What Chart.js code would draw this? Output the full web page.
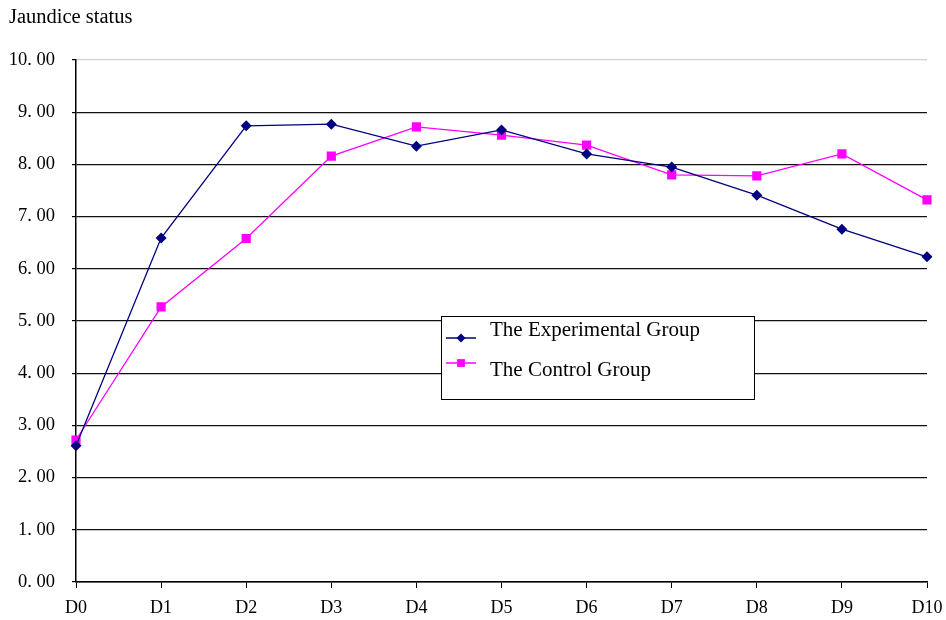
<!DOCTYPE html>
<html>
<head>
<meta charset="utf-8">
<script src="https://cdn.jsdelivr.net/npm/chart.js@4.4.1/dist/chart.umd.min.js"></script>
<style>
  html, body { margin: 0; padding: 0; background: #fff; }
  #wrap { width: 946px; height: 620px; position: relative; }
</style>
</head>
<body>
<div id="wrap"><canvas id="jaundice"></canvas></div>
<script>
const days = ['D0', 'D1', 'D2', 'D3', 'D4', 'D5', 'D6', 'D7', 'D8', 'D9', 'D10'];
const experimental = [2.61, 6.59, 8.74, 8.77, 8.35, 8.66, 8.20, 7.95, 7.41, 6.76, 6.23];
const control = [2.72, 5.27, 6.58, 8.16, 8.72, 8.56, 8.37, 7.80, 7.78, 8.20, 7.32];
const seriesNames = ['The Experimental Group', 'The Control Group'];
const yTitle = 'Jaundice status';

const NAVY = '#000080';
const MAGENTA = '#ff00ff';
const SERIF = '"Liberation Serif", "DejaVu Serif", serif';

// y label written like the original (wide full stop)
function fmt(v) {
  return v.toFixed(2).replace('.', '. ');
}

const frame = {
  id: 'frame',
  afterDraw(chart) {
    const ctx = chart.ctx;
    const a = chart.chartArea;
    ctx.save();
    // axis title top-left
    ctx.fillStyle = '#000';
    ctx.font = '20.5px ' + SERIF;
    ctx.textBaseline = 'middle';
    ctx.textAlign = 'left';
    ctx.fillText(yTitle, 9, 18);

    // legend box
    const bx = a.left + 365, by = a.top + 256, bw = 313, bh = 83;
    ctx.fillStyle = '#fff';
    ctx.fillRect(bx, by, bw, bh);
    ctx.strokeStyle = '#000';
    ctx.lineWidth = 1;
    ctx.strokeRect(bx + 0.5, by + 0.5, bw, bh);

    const items = [
      { name: seriesNames[0], color: NAVY, style: 'rectRot', r: 4.5, ly: 22, ty: 14 },
      { name: seriesNames[1], color: MAGENTA, style: 'rect', r: 5.5, ly: 47, ty: 54 }
    ];
    items.forEach((it) => {
      const y = by + it.ly;
      ctx.strokeStyle = it.color;
      ctx.lineWidth = 1.5;
      ctx.beginPath();
      ctx.moveTo(bx + 5, y);
      ctx.lineTo(bx + 35, y);
      ctx.stroke();
      ctx.fillStyle = it.color;
      Chart.helpers.drawPoint(ctx, { pointStyle: it.style, radius: it.r, borderWidth: 0 }, bx + 20, y);
      ctx.fillStyle = '#000';
      ctx.font = '21px ' + SERIF;
      ctx.textAlign = 'left';
      ctx.textBaseline = 'middle';
      ctx.fillText(it.name, bx + 49, by + it.ty);
    });
    ctx.restore();
  }
};

new Chart(document.getElementById('jaundice').getContext('2d'), {
  type: 'line',
  data: {
    labels: days,
    datasets: [
      {
        label: seriesNames[0],
        data: experimental,
        borderColor: NAVY,
        backgroundColor: NAVY,
        borderWidth: 1.3,
        pointStyle: 'rectRot',
        pointRadius: 5.5,
        pointBorderWidth: 0,
        tension: 0
      },
      {
        label: seriesNames[1],
        data: control,
        borderColor: MAGENTA,
        backgroundColor: MAGENTA,
        borderWidth: 1.3,
        pointStyle: 'rect',
        pointRadius: 6.5,
        pointBorderWidth: 0,
        tension: 0
      }
    ]
  },
  options: {
    responsive: true,
    maintainAspectRatio: false,
    animation: false,
    layout: { padding: { left: 0, right: 19, top: 60, bottom: 0 } },
    plugins: { legend: { display: false }, tooltip: { enabled: false } },
    scales: {
      x: {
        offset: false,
        grid: { drawOnChartArea: false, drawTicks: true, tickLength: 6, tickColor: '#000', lineWidth: 1 },
        border: { color: '#000', width: 1.5 },
        ticks: { color: '#000', font: { family: SERIF, size: 18 }, padding: 9, maxRotation: 0, autoSkip: false },
        afterFit(s) {
          s.height = 38;
          s.paddingLeft = 0;
          s.paddingRight = 0;
        }
      },
      y: {
        min: 0,
        max: 10,
        grid: {
          color: (c) => (c.tick && c.tick.value === 10 ? '#d0d0d0' : '#111'),
          tickColor: '#000',
          tickLength: 4,
          lineWidth: 1.2
        },
        border: { color: '#000', width: 1.5 },
        ticks: {
          stepSize: 1,
          color: '#000',
          font: { family: SERIF, size: 18.5 },
          padding: 17,
          callback: (v) => fmt(v)
        },
        afterFit(s) {
          s.width = 76;
          s.paddingTop = 0;
          s.paddingBottom = 0;
        }
      }
    }
  },
  plugins: [frame]
});
</script>
</body>
</html>
